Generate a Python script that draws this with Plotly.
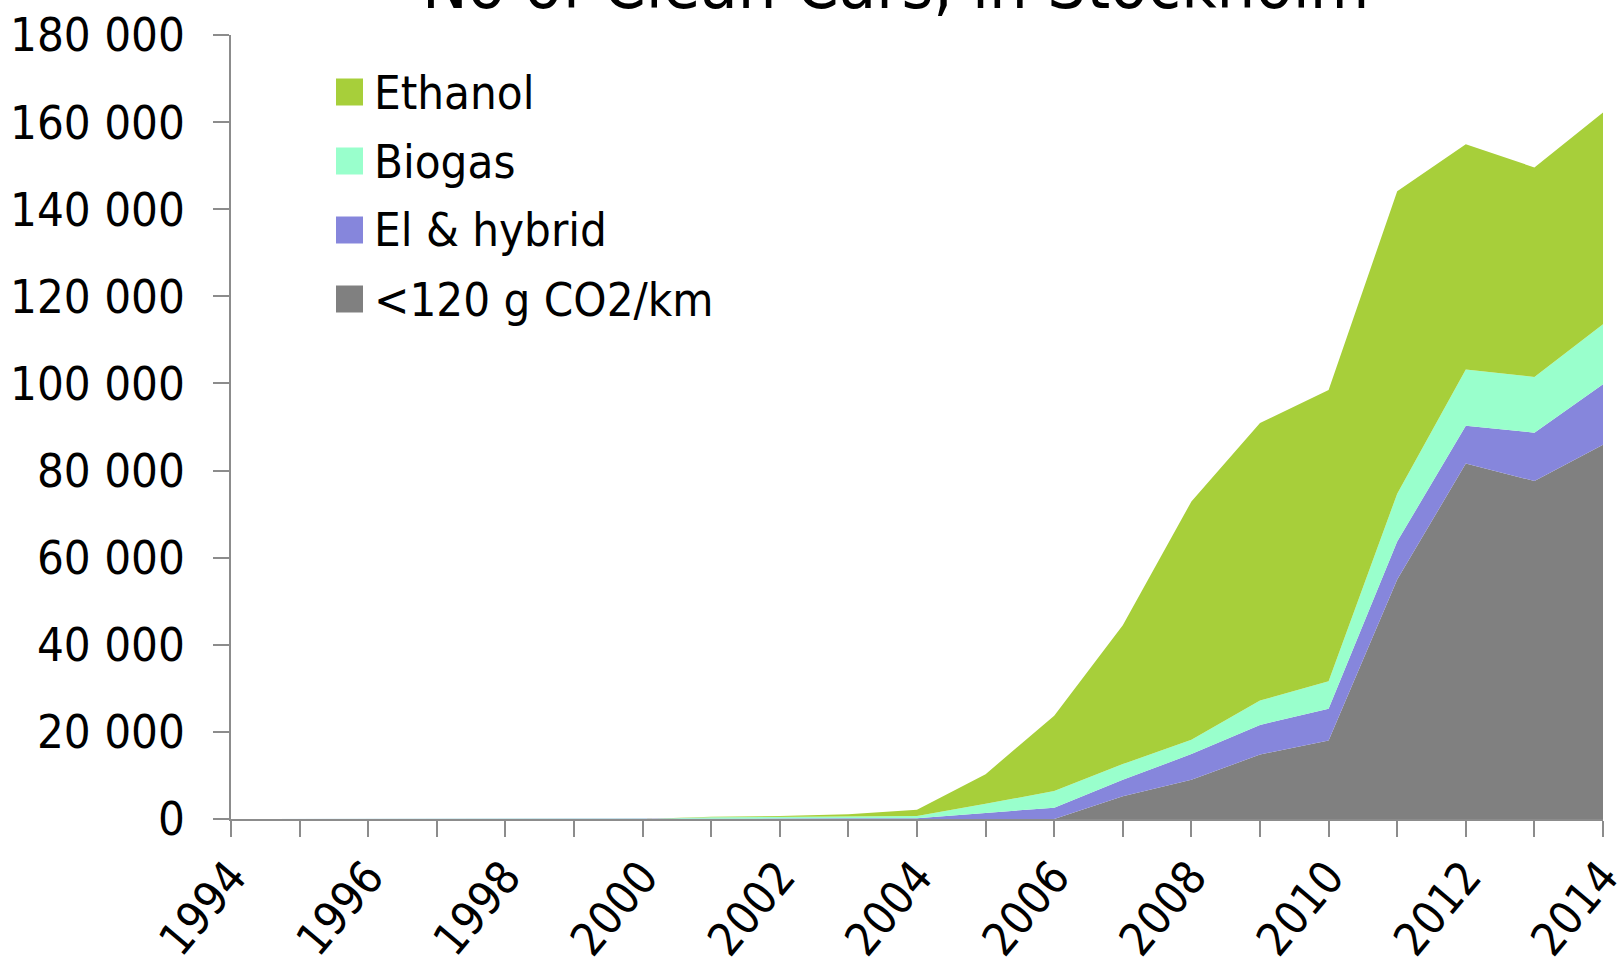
import plotly.graph_objects as go

years = list(range(1994, 2015))
# individual layer values (stacked bottom -> top)
low_co2 = [0, 0, 0, 0, 0, 0, 0, 0, 0, 0, 0, 0, 0, 5200, 9000, 14800, 18000, 55000, 81600, 77600, 85900]
el_hybrid = [0, 0, 0, 0, 0, 0, 0, 100, 100, 150, 200, 1400, 2600, 3800, 5900, 6800, 7300, 8700, 8700, 11100, 13900]
biogas = [0, 0, 0, 0, 0, 0, 0, 300, 400, 450, 500, 2100, 3800, 3600, 3300, 5600, 6300, 11000, 12900, 12800, 13800]
ethanol = [0, 0, 0, 0, 0, 0, 0, 100, 200, 500, 1400, 6800, 17300, 31900, 54700, 63700, 66900, 69400, 51700, 48100, 48600]

series = [
    ("<120 g CO2/km", low_co2, "#808080"),
    ("El & hybrid", el_hybrid, "#8686DC"),
    ("Biogas", biogas, "#99FFCC"),
    ("Ethanol", ethanol, "#A7CF3A"),
]
legend_order = ["Ethanol", "Biogas", "El & hybrid", "<120 g CO2/km"]
x_tick_years = list(range(1994, 2015, 2))
y_ticks = list(range(0, 180001, 20000))

FONT = "Tahoma, 'DejaVu Sans Condensed', 'Liberation Sans', sans-serif"
W, H = 1618, 960
L, R, T, B = 231, 15, 35, 141

fig = go.Figure()
for name, vals, col in series:
    fig.add_trace(go.Scatter(
        x=years, y=vals, name=name, mode="lines", stackgroup="one",
        line=dict(width=0, color=col), fillcolor=col, showlegend=False,
        hoverinfo="x+y+name",
    ))

# manual legend (large square swatches)
pw, ph = W - L - R, H - T - B
colors = {n: c for n, _, c in series}
for i, name in enumerate(legend_order):
    cy = 92 + i * 69  # pixel row centre
    yc = (H - B - cy) / ph
    x0 = (336 - L) / pw
    x1 = (363 - L) / pw
    half = 13.5 / ph
    fig.add_shape(type="rect", xref="paper", yref="paper", x0=x0, x1=x1,
                  y0=yc - half, y1=yc + half, fillcolor=colors[name],
                  line=dict(width=0), layer="above")
    fig.add_annotation(xref="paper", yref="paper", x=(372 - L) / pw, y=yc,
                       xanchor="left", yanchor="middle", text=name,
                       showarrow=False, font=dict(size=47, color="black", family=FONT))

# title, mostly cut off at top of the page
fig.add_annotation(xref="paper", yref="paper", x=(895 - L) / pw, y=1,
                   xanchor="center", yanchor="bottom", yshift=9,
                   text="No of Clean Cars, in Stockholm", showarrow=False,
                   font=dict(size=68, color="black", family=FONT))

axis_col = "#8C8C8C"
fig.update_layout(
    template="none",
    width=W, height=H,
    margin=dict(l=L, r=R, t=T, b=B, autoexpand=False),
    paper_bgcolor="white", plot_bgcolor="white",
    separators=", ",
    font=dict(family=FONT, size=48, color="black"),
    xaxis=dict(
        range=[1994, 2014], tickvals=x_tick_years, ticktext=[str(y) for y in x_tick_years],
        tickangle=-50, ticks="outside", ticklen=16, tickwidth=1.5, tickcolor=axis_col,
        showline=True, linecolor=axis_col, linewidth=2, showgrid=False, zeroline=False,
        minor=dict(dtick=1, tick0=1994, ticks="outside", ticklen=16, tickwidth=1.5, tickcolor=axis_col, showgrid=False),
        tickfont=dict(size=46, family=FONT), automargin=False, ticklabeloverflow="allow",
        ticklabelstandoff=-6,
    ),
    yaxis=dict(
        range=[0, 180000], tickvals=y_ticks, tickformat=",d",
        ticks="outside", ticklen=16, tickwidth=1.5, tickcolor=axis_col,
        showline=True, linecolor=axis_col, linewidth=1.5, showgrid=False, zeroline=False,
        tickfont=dict(size=47, family=FONT), automargin=False, ticklabelstandoff=19,
    ),
    showlegend=False,
)

fig.write_html("out.html", config={"displayModeBar": False},
               post_script="document.body.style.margin='0px';document.body.style.overflow='hidden';")
